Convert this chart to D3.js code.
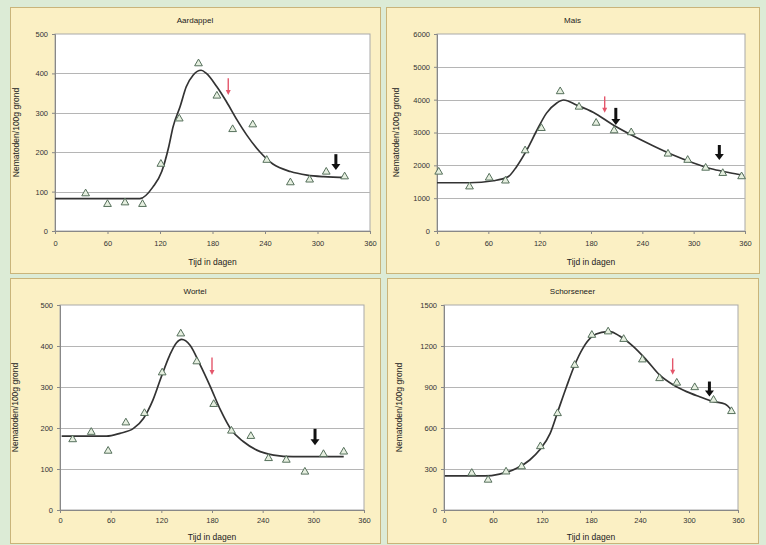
<!DOCTYPE html>
<html>
<head>
<meta charset="utf-8">
<script src="https://cdnjs.cloudflare.com/ajax/libs/d3/7.8.5/d3.min.js"></script>
<style>
body{margin:0;background:#dcebd6;}
svg{display:block;font-family:"Liberation Sans",Arial,sans-serif;}
</style>
</head>
<body>
<div id="chart"></div>
<script>
// titels en assen
const titles = ["Aardappel", "Mais", "Wortel", "Schorseneer"];
const xTicks = [0, 60, 120, 180, 240, 300, 360];
const yTicksAardappel = [0, 100, 200, 300, 400, 500];
const yTicksMais = [0, 1000, 2000, 3000, 4000, 5000, 6000];
const yTicksWortel = [0, 100, 200, 300, 400, 500];
const yTicksSchorseneer = [0, 300, 600, 900, 1200, 1500];

// metingen [dag, nematoden/100g grond]
const aardappelPoints = [[35,95],[60,68],[80,72],[100,68],[121,170],[142,285],[164,425],[185,343],[203,258],[226,270],[242,180],[269,123],[291,130],[310,150],[331,138]];
const maisPoints = [[2,1800],[38,1350],[61,1620],[80,1530],[103,2450],[122,3130],[144,4250],[166,3780],[186,3290],[207,3060],[227,3000],[270,2350],[293,2160],[314,1920],[334,1760],[356,1660]];
const wortelPoints = [[15,172],[37,190],[57,144],[78,213],[100,236],[121,335],[143,430],[162,362],[182,258],[203,193],[226,180],[247,126],[268,122],[290,93],[312,136],[336,142]];
const schorseneerPoints = [[34,270],[54,220],[76,280],[95,318],[118,465],[139,707],[160,1060],[181,1280],[201,1305],[220,1250],[243,1100],[264,963],[285,930],[307,897],[330,805],[352,722]];

const aardappelCurve = [[0,82],[40,82],[80,82],[97,82],[112,112],[122,151],[130,214],[135,265],[143,316],[150,366],[158,396],[167,408],[173,400],[185,366],[196,328],[208,282],[219,244],[234,201],[249,170],[269,151],[288,142],[307,138],[333,136]];
const maisCurve = [[0,1470],[38,1470],[66,1530],[83,1650],[93,1960],[105,2470],[116,3030],[128,3590],[140,3900],[148,3990],[163,3840],[183,3610],[206,3230],[229,2900],[253,2590],[276,2315],[299,2080],[323,1880],[342,1775],[358,1700]];
const wortelCurve = [[2,180],[55,180],[71,187],[87,199],[99,224],[110,268],[120,325],[130,378],[138,408],[144,416],[154,402],[166,354],[178,301],[190,244],[203,195],[217,167],[233,146],[253,134],[276,130],[336,130]];
const schorseneerCurve = [[1,249],[50,249],[68,263],[89,305],[105,366],[117,439],[130,561],[140,732],[150,902],[160,1061],[170,1183],[181,1268],[193,1300],[203,1305],[215,1273],[232,1195],[248,1097],[264,988],[281,914],[297,866],[313,829],[330,793],[344,776],[352,732]];

// pijlen [dag, van, tot]
const aardappelRed = [[198,388,345]];
const aardappelBlack = [[321,195,155]];
const maisRed = [[196,4100,3600]];
const maisBlack = [[209,3750,3230],[330,2620,2160]];
const wortelRed = [[180,372,329]];
const wortelBlack = [[302,198,158]];
const schorseneerRed = [[280,1110,990]];
const schorseneerBlack = [[325,940,830]];

const panels = [
    {x:10, y:7, w:370, h:266, l:55, r:370, t:34, b:231, pad:7, xt:34, yt:yTicksAardappel, pts:aardappelPoints, curve:aardappelCurve, red:aardappelRed, black:aardappelBlack, ax:16},
    {x:386, y:7, w:373, h:266, l:437, r:745, t:34, b:231, pad:7, xt:34, yt:yTicksMais, pts:maisPoints, curve:maisCurve, red:maisRed, black:maisBlack, ax:396},
    {x:10, y:278, w:370, h:265, l:60, r:364, t:305, b:510, pad:5, xt:30, yt:yTicksWortel, pts:wortelPoints, curve:wortelCurve, red:wortelRed, black:wortelBlack, ax:15},
    {x:387, y:278, w:371, h:265, l:444, r:738, t:305, b:510, pad:5, xt:30, yt:yTicksSchorseneer, pts:schorseneerPoints, curve:schorseneerCurve, red:schorseneerRed, black:schorseneerBlack, ax:399}
];

const svg = d3.select("#chart").append("svg").attr("width",766).attr("height",545);
svg.append("rect").attr("width",766).attr("height",545).attr("fill","#dcebd6");

panels.forEach((p,i)=>{
    const g = svg.append("g");
    g.append("rect")
        .attr("x",p.x+0.5).attr("y",p.y+0.5)
        .attr("width",p.w).attr("height",p.h)
        .attr("fill","#fbf0c4").attr("stroke","#c9b47a");

    const x = d3.scaleLinear().domain([0,360]).range([p.l,p.r]);
    const y = d3.scaleLinear().domain([0,d3.max(p.yt)]).range([p.b,p.t]);

    g.append("rect")
        .attr("x",p.l).attr("y",p.t)
        .attr("width",p.r-p.l).attr("height",p.b-p.t)
        .attr("fill","#fff").attr("stroke","#a9a9a9");

    g.selectAll(".grid")
        .data(p.yt.slice(1,-1))
        .enter().append("line")
        .attr("x1",p.l).attr("x2",p.r)
        .attr("y1",d=>Math.round(y(d))+0.5).attr("y2",d=>Math.round(y(d))+0.5)
        .attr("stroke","#b5b5b5");

    const axisx = d3.axisBottom(x).tickValues(xTicks).tickSize(3).tickPadding(p.pad);
    const axisy = d3.axisLeft(y).tickValues(p.yt).tickSize(3).tickPadding(4).tickFormat(d3.format("d"));

    const gx = g.append("g").attr("transform","translate(0,"+p.b+")").call(axisx);
    const gy = g.append("g").attr("transform","translate("+p.l+",0)").call(axisy);
    [gx,gy].forEach(a=>{
        a.select(".domain").attr("stroke","#888");
        a.selectAll(".tick line").attr("stroke","#888");
        a.selectAll("text").attr("fill","#333").attr("font-size","7.5px");
    });

    g.append("text")
        .attr("x",p.x+p.w/2).attr("y",p.y+16)
        .attr("text-anchor","middle").attr("font-size","8px").attr("fill","#222")
        .text(titles[i]);

    g.append("text")
        .attr("x",(p.l+p.r)/2).attr("y",p.b+p.xt)
        .attr("text-anchor","middle").attr("font-size","8.5px").attr("fill","#222")
        .text("Tijd in dagen");

    g.append("text")
        .attr("transform","translate("+p.ax+","+(p.t+p.b)/2+") rotate(-90)")
        .attr("dy","0.35em")
        .attr("text-anchor","middle").attr("font-size","8.5px").attr("fill","#222")
        .text("Nematoden/100g grond");

    g.append("path")
        .datum(p.curve)
        .attr("fill","none").attr("stroke","#333").attr("stroke-width",1.7)
        .attr("d",d3.line().x(d=>x(d[0])).y(d=>y(d[1])).curve(d3.curveMonotoneX));

    g.selectAll(".pt")
        .data(p.pts)
        .enter().append("path")
        .attr("transform",d=>"translate("+x(d[0])+","+y(d[1])+")")
        .attr("d",d3.symbol().type(d3.symbolTriangle).size(26))
        .attr("fill","#e6efe0").attr("stroke","#56705c").attr("stroke-width",1);

    const arrow = (list,color,w,hw,hh)=>{
        list.forEach(a=>{
            const ax = x(a[0]), y0 = y(a[1]), y1 = y(a[2]);
            g.append("line")
                .attr("x1",ax).attr("x2",ax).attr("y1",y0).attr("y2",y1-hh+1)
                .attr("stroke",color).attr("stroke-width",w);
            g.append("path")
                .attr("d","M"+(ax-hw)+","+(y1-hh)+"L"+(ax+hw)+","+(y1-hh)+"L"+ax+","+y1+"Z")
                .attr("fill",color);
        });
    };
    arrow(p.red,"#e4566b",1.4,2.5,5);
    arrow(p.black,"#111",3,4.5,6);
});
</script>
</body>
</html>
